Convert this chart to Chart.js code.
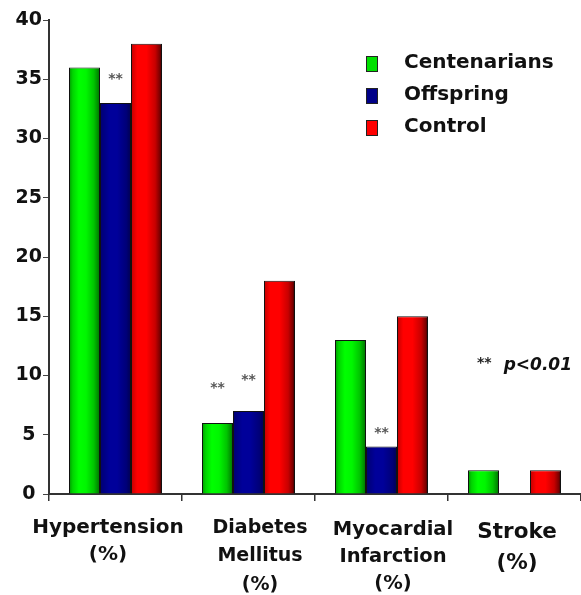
<!DOCTYPE html>
<html>
<head>
<meta charset="utf-8">
<script src="https://cdn.jsdelivr.net/npm/chart.js@4.4.1/dist/chart.umd.min.js"></script>
<style>
  html, body { margin: 0; padding: 0; background: #fff; }
  #wrap { width: 581px; height: 595px; }
</style>
</head>
<body>
<div id="wrap"><canvas id="chart" width="581" height="595"></canvas></div>
<script>
// ---- data ----
const categories = [
  ['Hypertension', '(%)'],
  ['Diabetes', 'Mellitus', '(%)'],
  ['Myocardial', 'Infarction', '(%)'],
  ['Stroke', '(%)']
];
const seriesNames = ['Centenarians', 'Offspring', 'Control'];
const centenarians = [36, 6, 13, 2];
const offspring = [33, 7, 4, null];
const control = [38, 18, 15, 2];
const yTickValues = [0, 5, 10, 15, 20, 25, 30, 35, 40];

// significance marks: category index, series index, value level where the mark sits
const sigCategory = [0, 1, 1, 2];
const sigSeries = [1, 0, 1, 1];
const sigLevel = [35.0, 8.9, 9.6, 5.1];
const sigText = '**';
const footnoteStars = '**';
const footnoteText = 'p<0.01';

// ---- styling ----
const FONT = "'DejaVu Sans', Verdana, sans-serif";
const flatColors = ['#00e000', '#000088', '#ff0000'];
const shadeStops = [
  [[0, '#009800'], [0.12, '#00d400'], [0.32, '#00ff00'], [0.55, '#00f600'], [0.8, '#00c400'], [1, '#007000']],
  [[0, '#000070'], [0.3, '#00009a'], [0.55, '#00009a'], [0.85, '#000078'], [1, '#000050']],
  [[0, '#c00000'], [0.2, '#ff0000'], [0.5, '#ff0000'], [0.78, '#c80000'], [0.92, '#800000'], [1, '#300000']]
];
// category label typography: font size, line spacing, horizontal nudge, first line offset below the axis
const labelStyle = [
  { size: 20,   line: 27,   nudge: -7.5, first: 34 },
  { size: 19,   line: 28.5, nudge: 11.5, first: 34 },
  { size: 19.5, line: 27,   nudge: 11.5, first: 36 },
  { size: 21.5, line: 31,   nudge: 2.5,  first: 38 }
];

// horizontal cylinder shading for every bar
const barShade = {
  id: 'barShade',
  afterDatasetsUpdate(chart) {
    const ctx = chart.ctx;
    chart.data.datasets.forEach((ds, i) => {
      chart.getDatasetMeta(i).data.forEach(el => {
        if (!el || !isFinite(el.x) || !isFinite(el.width)) return;
        const left = el.x - el.width / 2;
        const g = ctx.createLinearGradient(left, 0, left + el.width, 0);
        shadeStops[i].forEach(([o, c]) => g.addColorStop(o, c));
        el.options = Object.assign({}, el.options, { backgroundColor: g });
      });
    });
  }
};

// multi-line category names under the x axis
const categoryNames = {
  id: 'categoryNames',
  afterDraw(chart) {
    const ctx = chart.ctx;
    const xs = chart.scales.x;
    const base = chart.chartArea.bottom;
    ctx.save();
    ctx.fillStyle = '#111';
    ctx.textAlign = 'center';
    ctx.textBaseline = 'middle';
    categories.forEach((lines, i) => {
      const st = labelStyle[i];
      const x = xs.getPixelForValue(i) + st.nudge;
      ctx.font = `bold ${st.size}px ${FONT}`;
      lines.forEach((t, k) => ctx.fillText(t, x, base + st.first + k * st.line));
    });
    ctx.restore();
  }
};

// series key in the upper right
const seriesKey = {
  id: 'seriesKey',
  afterDraw(chart) {
    const ctx = chart.ctx;
    ctx.save();
    ctx.font = `bold 20px ${FONT}`;
    ctx.textBaseline = 'middle';
    ctx.textAlign = 'left';
    seriesNames.forEach((name, i) => {
      const cy = 63 + i * 32;
      ctx.fillStyle = flatColors[i];
      ctx.fillRect(366.5, cy - 6.5, 11, 15);
      ctx.strokeStyle = '#222';
      ctx.lineWidth = 1;
      ctx.strokeRect(366.5, cy - 6.5, 11, 15);
      ctx.fillStyle = '#111';
      ctx.fillText(name, 404, cy);
    });
    ctx.restore();
  }
};

// "**" marks above bars and the p-value note
const sigMarks = {
  id: 'sigMarks',
  afterDatasetsDraw(chart) {
    const ctx = chart.ctx;
    const y = chart.scales.y;
    ctx.save();
    ctx.fillStyle = '#555';
    ctx.font = `bold 14px ${FONT}`;
    ctx.textAlign = 'center';
    ctx.textBaseline = 'middle';
    sigCategory.forEach((cat, k) => {
      const el = chart.getDatasetMeta(sigSeries[k]).data[cat];
      ctx.fillText(sigText, el.x, y.getPixelForValue(sigLevel[k]));
    });
    // p-value note
    const ny = y.getPixelForValue(10.8);
    const right = chart.chartArea.right - 9;
    ctx.fillStyle = '#111';
    ctx.font = `italic bold 17px ${FONT}`;
    ctx.textAlign = 'right';
    ctx.fillText(footnoteText, right, ny);
    const w = ctx.measureText(footnoteText).width;
    ctx.font = `bold 14px ${FONT}`;
    ctx.fillStyle = '#222';
    ctx.fillText(footnoteStars, right - w - 12, ny - 3);
    ctx.restore();
  }
};

const datasets = [centenarians, offspring, control].map((vals, i) => ({
  label: seriesNames[i],
  data: vals,
  backgroundColor: flatColors[i],
  borderColor: '#111',
  borderWidth: 1,
  borderSkipped: 'bottom',
  categoryPercentage: 0.6992,
  barPercentage: 1.0
}));

new Chart(document.getElementById('chart'), {
  type: 'bar',
  data: { labels: categories, datasets },
  plugins: [barShade, sigMarks, categoryNames, seriesKey],
  options: {
    responsive: false,
    devicePixelRatio: 1,
    animation: false,
    events: [],
    layout: { padding: { top: 20, right: 0, bottom: 0, left: 0 } },
    plugins: {
      legend: { display: false },
      tooltip: { enabled: false },
      title: { display: false }
    },
    scales: {
      x: {
        grid: {
          display: true,
          drawOnChartArea: false,
          drawTicks: true,
          tickLength: 7,
          offset: true,
          color: '#333',
          lineWidth: 1.5
        },
        border: { display: true, color: '#333', width: 2 },
        ticks: { display: false },
        afterFit(scale) { scale.height = 101; }
      },
      y: {
        min: 0,
        max: 40,
        afterBuildTicks(scale) { scale.ticks = yTickValues.map(v => ({ value: v })); },
        grid: {
          display: true,
          drawOnChartArea: false,
          drawTicks: true,
          tickLength: 6,
          color: '#444',
          lineWidth: 1
        },
        border: { display: true, color: '#333', width: 2 },
        ticks: {
          color: '#111',
          padding: 1,
          crossAlign: 'center',
          font: { family: FONT, size: 19, weight: 'bold' }
        },
        afterFit(scale) { scale.width = 49; }
      }
    }
  }
});
</script>
</body>
</html>
